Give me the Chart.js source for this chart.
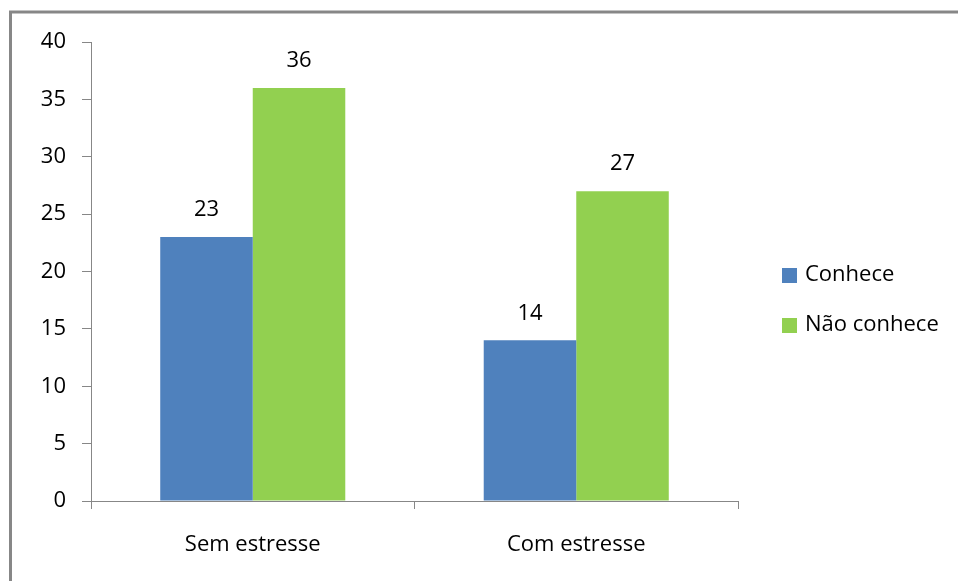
<!DOCTYPE html>
<html>
<head>
<meta charset="utf-8">
<script src="https://cdn.jsdelivr.net/npm/chart.js@4/dist/chart.umd.min.js"></script>
<style>
  html, body { margin: 0; padding: 0; background: #fff; }
  #wrap { width: 958px; height: 581px; position: relative; }
</style>
</head>
<body>
<div id="wrap"><canvas id="stressChart"></canvas></div>
<script>
// Categories and series
const categories = ["Sem estresse", "Com estresse"];
const conheceValues = [23, 14];
const naoConheceValues = [36, 27];
const seriesLabels = ["Conhece", "Não conhece"];
const seriesColors = ["#4F81BD", "#92D050"];
const yTicks = [0, 5, 10, 15, 20, 25, 30, 35, 40];

const FONT = "'Open Sans', sans-serif";
const FONT_SIZE = 22;

// Gray frame around the chart (only top and left edges fall inside the view)
const framePlugin = {
  id: "frame",
  beforeDraw(chart) {
    const ctx = chart.ctx;
    ctx.save();
    ctx.strokeStyle = "#878787";
    ctx.lineWidth = 3;
    ctx.strokeRect(10.5, 12, 1200, 1200);
    ctx.restore();
  }
};

// Value labels above each bar
const valueLabels = {
  id: "valueLabels",
  afterDatasetsDraw(chart) {
    const ctx = chart.ctx;
    ctx.save();
    ctx.font = FONT_SIZE + "px " + FONT;
    ctx.fillStyle = "#000";
    ctx.textAlign = "center";
    ctx.textBaseline = "middle";
    chart.data.datasets.forEach((ds, i) => {
      chart.getDatasetMeta(i).data.forEach((bar, j) => {
        ctx.fillText(String(ds.data[j]), bar.x, bar.y - 27);
      });
    });
    ctx.restore();
  }
};

// Legend drawn to the right of the plot
const sideLegend = {
  id: "sideLegend",
  afterDraw(chart) {
    const ctx = chart.ctx;
    ctx.save();
    ctx.font = FONT_SIZE + "px " + FONT;
    ctx.textBaseline = "middle";
    ctx.textAlign = "left";
    const rows = [275, 325];
    chart.data.datasets.forEach((ds, i) => {
      ctx.fillStyle = ds.backgroundColor;
      ctx.fillRect(782, rows[i] - 7, 15, 15);
      ctx.fillStyle = "#000";
      ctx.fillText(ds.label, 805, rows[i]);
    });
    ctx.restore();
  }
};

new Chart(document.getElementById("stressChart"), {
  type: "bar",
  data: {
    labels: categories,
    datasets: [
      { label: seriesLabels[0], data: conheceValues, backgroundColor: seriesColors[0] },
      { label: seriesLabels[1], data: naoConheceValues, backgroundColor: seriesColors[1] }
    ]
  },
  options: {
    responsive: true,
    maintainAspectRatio: false,
    animation: false,
    layout: { padding: { top: 42, right: 220, left: 0, bottom: 0 } },
    datasets: { bar: { categoryPercentage: 0.572, barPercentage: 1.0 } },
    plugins: {
      legend: { display: false },
      tooltip: { enabled: false }
    },
    scales: {
      x: {
        grid: { display: true, drawOnChartArea: false, drawTicks: true, tickLength: 8, color: "#878787", offset: true },
        border: { color: "#878787", width: 1 },
        ticks: { color: "#000", font: { family: FONT, size: FONT_SIZE }, padding: 23 },
        afterFit(scale) { scale.height = 80; }
      },
      y: {
        min: 0,
        max: 40,
        afterBuildTicks(scale) { scale.ticks = yTicks.map(v => ({ value: v })); },
        grid: { display: true, drawOnChartArea: false, drawTicks: true, tickLength: 9, color: "#878787" },
        border: { color: "#878787", width: 1 },
        ticks: { color: "#000", font: { family: FONT, size: FONT_SIZE }, padding: 16 },
        afterFit(scale) { scale.width = 91; }
      }
    }
  },
  plugins: [framePlugin, valueLabels, sideLegend]
});
</script>
</body>
</html>
